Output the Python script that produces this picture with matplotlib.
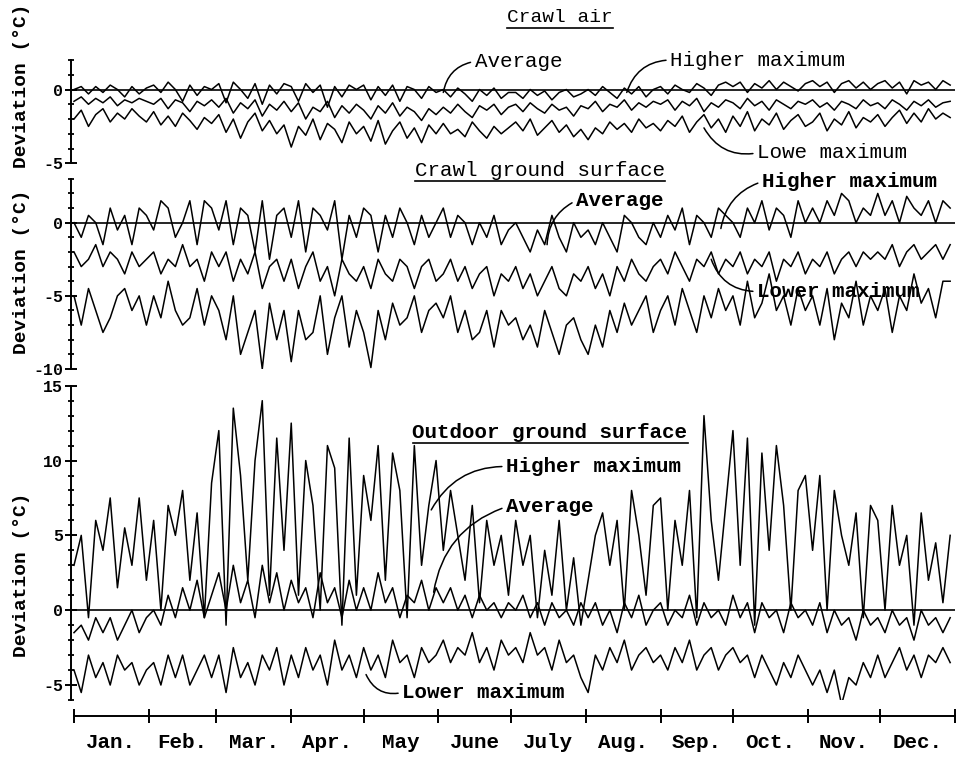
import numpy as np
import matplotlib.pyplot as plt
from matplotlib.ticker import MultipleLocator
from matplotlib.lines import Line2D

plt.rcParams['font.family'] = ['Liberation Mono', 'DejaVu Sans Mono']
plt.rcParams['axes.unicode_minus'] = False

months = ["Jan.", "Feb.", "Mar.", "Apr.", "May", "June",
          "July", "Aug.", "Sep.", "Oct.", "Nov.", "Dec."]
month_days = [31, 28, 31, 30, 31, 30, 31, 31, 30, 31, 30, 31]
step = 3  # one reading every 3 days

# ---- Crawl air ----
hmax1 = [0, 0.2, -0.3, 0.2, -0.2, 0.3, 0, -0.5, 0.2, -0.3, 0.1,
         0.3, -0.2, 0.5, 0, -0.8, 0.3, -0.4, 0.2, 0,
         0.4, -0.9, 0.5, 0, -0.6, 0.4, -1, 0.3, -0.3, 0.4,
         0.2, -0.8, 0.4, -0.2, 0.3, -1.2, 0.2, -0.5, 0.3, 0,
         0.3, -0.7, 0.2, -0.4, 0.3, -0.8, 0.2, 0, -0.6, 0.2, -0.2,
         0, -0.5, 0.1, -0.3, -0.8, 0, -0.4, 0.1, -0.6, -0.2,
         -0.2, -0.6, 0, -0.4, -0.1, -0.7, -0.2, 0, -0.5, -0.3,
         0, -0.4, 0.2, -0.2, -0.6, 0.1, -0.3, 0.2, -0.5, 0,
         0.2, -0.3, 0.3, 0, -0.2, 0.4, 0.1, -0.4, 0.3, 0.5,
         0.2, 0.5, -0.2, 0.4, 0.1, 0.6, 0, 0.5, 0.2, -0.1, 0.4,
         0.6, 0.2, 0.5, -0.2, 0.4, 0.6, 0.1, 0.5, 0,
         0.4, 0.6, 0.1, 0.5, -0.3, 0.6, 0.3, 0.5, 0, 0.6, 0.3]
avg1 = [-0.8, -0.5, -1, -0.6, -0.9, -0.5, -1.1, -0.7, -0.9, -0.6, -0.8,
        -1, -0.6, -1.3, -0.7, -0.9, -1.5, -0.8, -1.1, -0.7,
        -1.2, -0.6, -1.6, -0.9, -1.3, -0.7, -1.8, -1, -1.4, -0.8,
        -1.5, -0.9, -2, -1.2, -1.5, -0.8, -1.9, -1.1, -1.6, -1,
        -1.4, -2, -1.1, -1.6, -0.9, -1.8, -1.2, -1.5, -2.1, -1.3, -1.7,
        -1.2, -1.6, -1, -1.5, -1.9, -1.1, -1.4, -1, -1.7, -1.2,
        -1, -1.5, -0.9, -1.3, -1.6, -1, -1.4, -1.2, -1.8, -1.1,
        -1.3, -0.8, -1.5, -1, -1.2, -0.7, -1.4, -0.9, -1.2, -0.8,
        -1, -0.7, -1.4, -0.8, -1.1, -0.6, -1.5, -0.9, -1.2, -0.7,
        -0.9, -1.3, -0.6, -1.1, -0.8, -1.4, -0.7, -1, -1.3, -0.8, -1,
        -0.7, -1.2, -0.9, -1.4, -0.8, -1, -1.3, -0.7, -1.1,
        -0.9, -1.3, -0.7, -1, -1.4, -0.8, -1.1, -0.7, -1.2, -0.9, -0.8]
lmax1 = [-2, -1.4, -2.5, -1.7, -1.3, -2.2, -1.6, -2, -1.3, -1.8, -2.2,
         -1.5, -2.4, -1.8, -2.5, -1.6, -2.1, -2.7, -1.9, -2.3,
         -1.7, -2.9, -2, -3.3, -2.2, -1.6, -2.8, -2.1, -3, -2.4,
         -3.9, -2.5, -3.1, -2, -3.4, -2.3, -2.7, -3.6, -2.2, -3,
         -2.5, -3.5, -2.1, -3.7, -2.8, -2.2, -3.3, -2.6, -3.6, -2.4, -3,
         -2.3, -3, -2.7, -3.2, -2.2, -2.8, -3.3, -2.5, -3, -2.6,
         -2.2, -2.8, -2, -3.1, -2.6, -2.1, -2.9, -2.4, -3.2, -2.7,
         -3.4, -2.6, -3, -2.2, -2.7, -2.3, -2.9, -2, -2.6, -2.3,
         -2.8, -2.1, -2.5, -1.8, -2.9, -2.2, -1.7, -2.6, -2, -2.9,
         -1.8, -2.5, -1.5, -2.8, -2, -2.4, -1.6, -2.7, -2.1, -1.7, -2.5,
         -2.2, -1.6, -2.8, -2, -2.4, -1.5, -2.6, -1.9, -2.2,
         -1.7, -2.5, -1.9, -1.4, -2.3, -1.6, -2.2, -1.3, -2, -1.6, -1.9]

# ---- Crawl ground surface ----
hmax2 = [0, -1, 0.5, 0, -1.5, 1, -0.5, 0.5, -1.5, 1, 0.5,
         -0.5, 1.5, 1, -1, 0, 1.5, -1.5, 1.5, 1,
         -0.5, 1.5, -1.5, 1, 0.5, -2, 1.5, -2.5, 0.5, 1,
         -1, 1.5, -2, 1, 0.5, -0.5, 1.5, -2.5, 0.5, -1,
         1, 0.5, -2, 0.5, -1, 1, 0, -1.5, 0.5, -1, 0,
         1, -1, 0.5, 0, -1.5, 0, -1, 0.5, -1.5, -0.5,
         0, -1, -2, -0.5, -1.5, 0.5, -1, -2, 0, -1,
         -0.5, -1.5, 0, -1, -2, 0.5, 0, -1, -1.5, 0,
         -1, 0.5, -0.5, 1, -1.5, 0.5, 0, -1, 1, 0.5,
         0, -1, 1, 0, 1.5, -0.5, 1, 0.5, -1, 1.5, 0,
         1, 0, 1.5, 0.5, 2, 1.5, 0, 1, 0.5,
         2, 0.5, 1.5, 0, 1.8, 1, 0.5, 1.5, 0, 1.5, 1]
avg2 = [-2, -3, -2.5, -1.5, -3, -2, -2.5, -3.5, -2, -3, -2.5,
        -2, -3.5, -2.5, -3, -1.5, -3, -2.5, -4, -2,
        -3, -2, -4, -2.5, -3.5, -2, -4.5, -3, -2.5, -4,
        -2.5, -4.5, -3, -2, -4, -3, -5, -2.5, -3.5, -4,
        -3, -4.5, -2.5, -3.5, -4, -2.5, -3, -4.5, -3, -2.5, -4,
        -3.5, -2.5, -4, -3, -4.5, -3.5, -3, -5, -3.5, -4,
        -3, -4.5, -3.5, -5, -4, -3, -4.5, -5, -3.5, -4,
        -3, -4.5, -3.5, -5, -3, -4, -2.5, -3.5, -4, -3,
        -2.5, -3.5, -2, -3, -4, -2.5, -3, -2, -3.5, -2.5,
        -3, -2, -3.5, -2.5, -3, -2, -4, -2.5, -3, -2, -3.5,
        -2.5, -3, -2, -3.5, -2.5, -2, -3, -2, -2.5,
        -2, -2.5, -1.5, -3, -2, -1.5, -2.5, -2, -1.5, -2.5, -1.5]
lmax2 = [-5, -7, -4.5, -6, -7.5, -6.5, -5, -4.5, -6, -5, -7,
         -5, -6.5, -4, -6, -7, -6.5, -4.5, -7, -5,
         -6, -8, -5, -9, -7.5, -6, -10, -5.5, -8, -6,
         -9.5, -6, -8, -7.5, -5, -9, -6.5, -5, -8.5, -6,
         -7.5, -9.9, -6, -8, -5.5, -7, -6.5, -5, -7.5, -6, -5.5,
         -6.5, -5, -7.5, -6, -8, -7.5, -6, -8.5, -6, -7,
         -6.5, -8, -7, -8.5, -6, -7.5, -9, -7, -6.5, -8,
         -9, -7, -8.5, -6, -7.5, -5.5, -7, -6, -5, -7.5,
         -6, -5, -7, -4.5, -6, -7.5, -5, -6.5, -4.5, -6,
         -5, -7, -4, -6.5, -5.5, -3.5, -6, -5, -7, -4.5, -6,
         -5, -7, -4.5, -8, -5.5, -6.5, -4, -7, -5,
         -6, -4.5, -7.5, -5, -6, -3.5, -5.5, -4.5, -6.5, -4, -4]

# ---- Outdoor ground surface ----
hmax3 = [3, 5, -0.5, 6, 4, 7.5, 1.5, 5.5, 3, 7.5, 2,
         6, 0, 7, 5, 8, 2, 6.5, -0.5, 8.5,
         12, -1, 13.5, 9, 2, 10, 14, 1, 11.5, 4,
         12.5, 1, 10, 7, 0, 11, 9.5, -1, 11.5, 1,
         9, 6, 11, 2, 10.5, 8, -0.5, 11, 3, 7, 10,
         4, 8, 5, 2, 7, 0.5, 6, 3, 5, 1,
         6, 3, 5, -0.5, 4, 1, 6, 0, 3.5, -1,
         2, 5, 6.5, 3, 6, 0, 8, 5, 1, 7,
         7.5, 0, 6, 3, 8, -0.5, 13, 6, 2, 7,
         12, 3, 11.5, -1, 10.5, 4, 11, 7, 0, 8, 9,
         4, 9, 0, 8, 5, 3, 6.5, -0.5, 7,
         6, 0, 7, 3, 5, -1, 6.5, 2, 4.5, 0.5, 5]
avg3 = [-1.5, -1, -2, -0.5, -1.5, -0.5, -2, -1, 0, -1.5, -0.5,
        0, -1, 1, -0.5, 1.5, 0, 2, -0.5, 1,
        2.5, 0, 3, 0.5, 2, -0.5, 3, 0.5, 2.5, 0,
        2, 0.5, 1.5, -0.5, 2.5, 0.5, 1.5, -0.5, 2, 0,
        1.5, 0, 2.5, 0.5, 1.5, -0.5, 1, 0.5, 2, 0, 1.5,
        0.5, 1.5, 0, 1, -0.5, 1, 0, 0.5, -0.5, 0.5,
        0, 1, -0.5, 0.5, -1, 0.5, -0.5, 0, -1, 0.5,
        -0.5, 0.5, -1, 0, -1.5, 0.5, -0.5, 1, -1, 0,
        0.5, -1, 0, -0.5, 1, -1, 0.5, -0.5, 0, -1,
        1, -0.5, 0.5, -1.5, 0.5, -0.5, 0, -1.5, 0.5, -0.5, 0,
        -1, 0.5, -1.5, 0, -1, -0.5, -2, 0, -1,
        -0.5, -1.5, 0, -1, -0.5, -2, 0, -1, -0.5, -1.5, -0.5]
lmax3 = [-4, -5.5, -3, -4.5, -3.5, -5, -3, -4, -3.5, -5, -4,
         -3.5, -5, -3, -4.5, -3, -5, -4, -3, -4.5,
         -3, -5.5, -2.5, -4.5, -3.5, -5, -3, -4, -2.5, -5,
         -3, -4.5, -2.5, -4, -3, -5, -2, -4, -3, -4.5,
         -2.5, -4, -3, -4.5, -2, -3.5, -3, -4.5, -2.5, -3.5, -3,
         -2, -3.5, -2.5, -3, -1.5, -3.5, -2.5, -4, -2, -3,
         -2.5, -3.5, -1.5, -3, -2.5, -4, -2, -3.5, -3, -4.5,
         -5.5, -3, -4, -2.5, -3.5, -2, -4, -3, -2.5, -3.5,
         -3, -4, -2.5, -3.5, -2, -4, -3, -2.5, -4, -3,
         -2.5, -3.5, -3, -4.5, -3, -4, -5, -3.5, -4.5, -3, -4,
         -5, -4, -5.5, -4, -6.3, -4.5, -5, -3.5, -4.5,
         -3, -4.5, -3.5, -2.5, -4, -3, -4.5, -3, -3.5, -2.5, -3.5]

W, H = 959, 758
fig = plt.figure(figsize=(W / 100, H / 100), dpi=100)


def box(top, bottom, left=71, right=955):
    return [left / W, 1 - bottom / H, (right - left) / W, (bottom - top) / H]


px_per_day = (955 - 74) / 365
x_left = -3 / px_per_day

panels = [
    (box(60, 163.3), (-5, 2), [hmax1, avg1, lmax1]),
    (box(178.8, 369), (-10, 3), [hmax2, avg2, lmax2]),
    (box(385.7, 700), (-6, 15), [hmax3, avg3, lmax3]),
]

axes = []
for pos, ylim, series in panels:
    ax = fig.add_axes(pos)
    for s in series:
        ax.plot(np.arange(len(s)) * step, s, color='black', lw=1.1)
    ax.axhline(0, color='black', lw=1.2)
    ax.set_xlim(x_left, 365)
    ax.set_ylim(*ylim)
    for side in ['top', 'right', 'bottom']:
        ax.spines[side].set_visible(False)
    ax.spines['left'].set_linewidth(1.4)
    ax.set_xticks([])
    ax.yaxis.set_major_locator(MultipleLocator(5))
    ax.yaxis.set_minor_locator(MultipleLocator(1))
    ax.tick_params(axis='y', which='major', direction='inout', length=9,
                   width=1.4, labelsize=12, pad=1)
    ax.tick_params(axis='y', which='minor', direction='inout', length=4,
                   width=1.3)
    plt.setp(ax.get_yticklabels(), fontweight='bold')
    ax.patch.set_alpha(0)
    axes.append(ax)

ax1, ax2, ax3 = axes

# month axis, detached below the bottom panel
axm = fig.add_axes([74 / W, 1 - 716 / H, (955 - 74) / W, 1e-4])
axm.set_xlim(0, 365)
for side in ['top', 'right', 'left']:
    axm.spines[side].set_visible(False)
axm.spines['bottom'].set_linewidth(1.4)
axm.set_yticks([])
starts = np.concatenate([[0], np.cumsum(month_days)])
axm.set_xticks(starts)
axm.set_xticklabels([])
axm.set_xticks(starts[:-1] + np.array(month_days) / 2, minor=True)
axm.set_xticklabels(months, minor=True, fontweight='bold')
axm.tick_params(axis='x', which='major', direction='inout', length=10, width=1.4)
axm.tick_params(axis='x', which='minor', length=0, pad=12, labelsize=15)

# y labels
for yc in [86, 272, 575]:
    fig.text(22 / W, 1 - yc / H, "Deviation (°C)", rotation=90, ha='center',
             va='center', fontsize=14, fontweight='bold')

# titles (underlined)
titles = [
    fig.text(560 / W, 1 - 18 / H, "Crawl air", ha='center', va='center', fontsize=14),
    fig.text(540 / W, 1 - 170 / H, "Crawl ground surface", ha='center', va='center', fontsize=15),
    fig.text(550 / W, 1 - 432 / H, "Outdoor ground surface", ha='center', va='center',
             fontsize=15, fontweight='bold'),
]


def label(ax, text, xy, xytext, rad, bold=False):
    ax.annotate(text, xy=xy, xytext=xytext, ha='left', va='center', fontsize=15,
                fontweight='bold' if bold else 'normal', annotation_clip=False,
                arrowprops=dict(arrowstyle='-', lw=1.1, color='black', relpos=(0, 0.5),
                                shrinkA=1, shrinkB=0,
                                connectionstyle='arc3,rad=%s' % rad))


label(ax1, "Average", (153, -0.2), (166, 1.9), 0.35)
label(ax1, "Higher maximum", (229, -0.2), (247, 2.0), 0.35)
label(ax1, "Lowe maximum", (261, -2.6), (283, -4.3), -0.35)

label(ax2, "Average", (196, -1.5), (208, 1.5), 0.3, bold=True)
label(ax2, "Higher maximum", (268, -0.4), (285, 2.8), 0.3, bold=True)
label(ax2, "Lower maximum", (264, -2.5), (283, -4.7), -0.35, bold=True)

label(ax3, "Higher maximum", (148, 6.7), (179, 9.6), 0.3, bold=True)
label(ax3, "Average", (149, 1.2), (179, 6.9), 0.3, bold=True)
label(ax3, "Lower maximum", (121, -4.3), (136, -5.5), -0.4, bold=True)

fig.canvas.draw()
inv = fig.transFigure.inverted()
for t in titles:
    bb = t.get_window_extent()
    (x0, y0), (x1, _) = inv.transform([(bb.x0, bb.y0 - 1), (bb.x1, bb.y0)])
    fig.add_artist(Line2D([x0, x1], [y0, y0], transform=fig.transFigure,
                          color='black', lw=1.2))

fig.savefig('out.png', dpi=100)
